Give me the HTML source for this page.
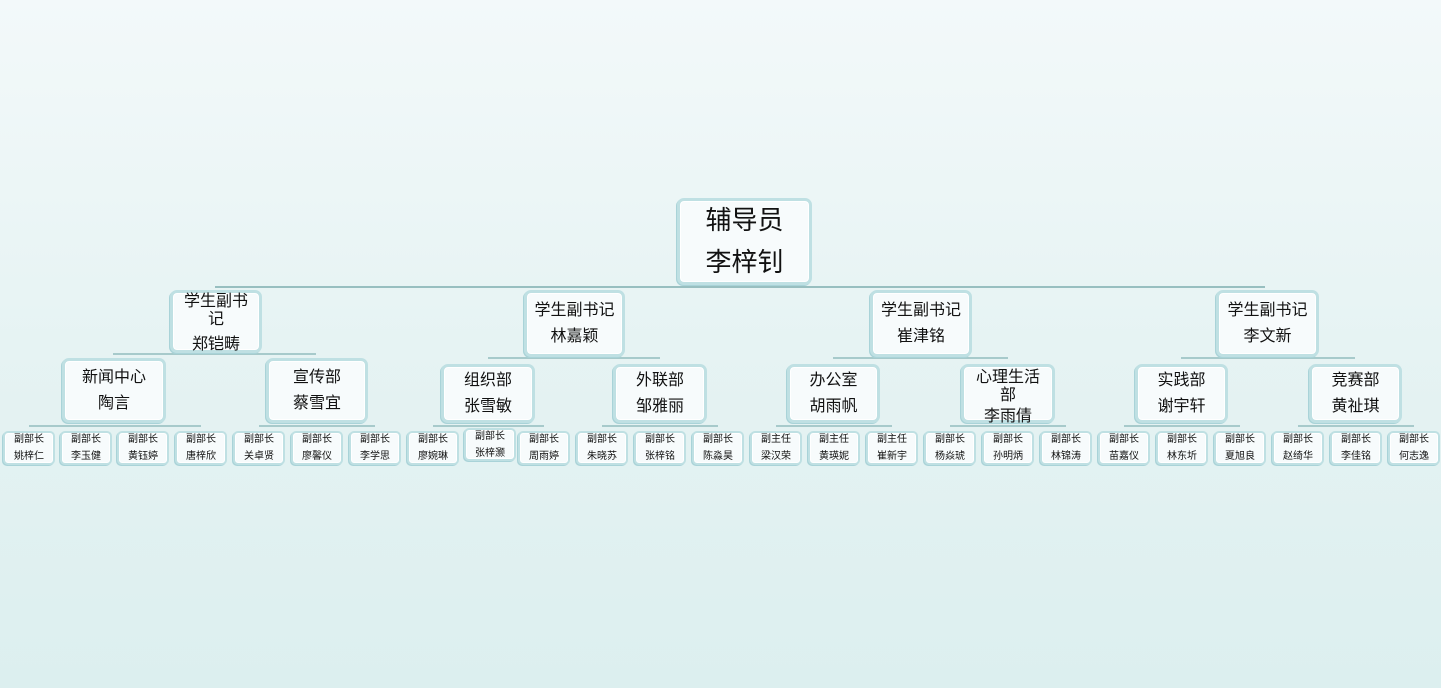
<!DOCTYPE html>
<html><head><meta charset="utf-8"><style>
html,body{margin:0;padding:0}
body{width:1441px;height:688px;position:relative;overflow:hidden;background:linear-gradient(180deg,#f3f9fa 0%,#e6f3f3 50%,#dcefef 100%);font-family:"Liberation Sans","Noto Sans CJK SC",sans-serif;color:#111}
.b{position:absolute;box-sizing:border-box;background:#f7fbfc;border:3px solid #bfe0e3;border-radius:7px;box-shadow:inset 0 0 0 1px #fff,-1px 1px 0 #a9d3d8;display:flex;flex-direction:column;align-items:center;justify-content:center;text-align:center;line-height:1.6}
.r{font-size:26px;line-height:1.6}
.m{font-size:16px}
.s{font-size:10px;line-height:1.7;border-width:2px;border-radius:5px}
.h{position:absolute;height:2px;background:#a7cacb}
.v{position:absolute;width:2px;background:#a7cacb}
</style></head><body>
<div class="h" style="left:215px;top:286px;width:1050px;background:#98bfc0"></div>
<div class="b r" style="left:677px;top:198px;width:135px;height:87px">辅导员<br>李梓钊</div>

<div class="h" style="left:113px;top:353px;width:203px"></div>
<div class="h" style="left:488px;top:357px;width:172px"></div>
<div class="h" style="left:833px;top:357px;width:175px"></div>
<div class="h" style="left:1181px;top:357px;width:174px"></div>

<div class="b m" style="left:170px;top:290px;width:92px;height:63px;line-height:1.1;justify-content:flex-start"><span>学生副书<br>记</span><span style="margin-top:8px">郑铠畴</span></div>
<div class="b m" style="left:524px;top:290px;width:101px;height:67px">学生副书记<br>林嘉颖</div>
<div class="b m" style="left:870px;top:290px;width:102px;height:67px">学生副书记<br>崔津铭</div>
<div class="b m" style="left:1216px;top:290px;width:103px;height:67px">学生副书记<br>李文新</div>

<div class="h" style="left:29px;top:425px;width:172px"></div>
<div class="h" style="left:259px;top:425px;width:116px"></div>
<div class="h" style="left:433px;top:425px;width:111px"></div>
<div class="h" style="left:602px;top:425px;width:116px"></div>
<div class="h" style="left:776px;top:425px;width:116px"></div>
<div class="h" style="left:950px;top:425px;width:116px"></div>
<div class="h" style="left:1124px;top:425px;width:116px"></div>
<div class="h" style="left:1298px;top:425px;width:116px"></div>

<div class="b m" style="left:62px;top:358px;width:104px;height:65px">新闻中心<br>陶言</div>
<div class="b m" style="left:266px;top:358px;width:102px;height:65px">宣传部<br>蔡雪宜</div>
<div class="b m" style="left:441px;top:364px;width:94px;height:59px">组织部<br>张雪敏</div>
<div class="b m" style="left:613px;top:364px;width:94px;height:59px">外联部<br>邹雅丽</div>
<div class="b m" style="left:787px;top:364px;width:93px;height:59px">办公室<br>胡雨帆</div>
<div class="b m" style="left:961px;top:364px;width:94px;height:59px;line-height:1.1;justify-content:flex-start;padding-top:2px"><span>心理生活<br>部</span><span style="margin-top:4px">李雨倩</span></div>
<div class="b m" style="left:1135px;top:364px;width:93px;height:59px">实践部<br>谢宇轩</div>
<div class="b m" style="left:1309px;top:364px;width:93px;height:59px">竞赛部<br>黄祉琪</div>

<div class="b s" style="left:3px;top:431px;width:52px;height:34px">副部长<br>姚梓仁</div>
<div class="b s" style="left:60px;top:431px;width:52px;height:34px">副部长<br>李玉健</div>
<div class="b s" style="left:117px;top:431px;width:52px;height:34px">副部长<br>黄钰婷</div>
<div class="b s" style="left:175px;top:431px;width:52px;height:34px">副部长<br>唐梓欣</div>
<div class="b s" style="left:233px;top:431px;width:52px;height:34px">副部长<br>关卓贤</div>
<div class="b s" style="left:291px;top:431px;width:52px;height:34px">副部长<br>廖馨仪</div>
<div class="b s" style="left:349px;top:431px;width:52px;height:34px">副部长<br>李学思</div>
<div class="b s" style="left:407px;top:431px;width:52px;height:34px">副部长<br>廖婉琳</div>
<div class="b s" style="left:464px;top:428px;width:52px;height:33px">副部长<br>张梓灏</div>
<div class="b s" style="left:518px;top:431px;width:52px;height:34px">副部长<br>周雨婷</div>
<div class="b s" style="left:576px;top:431px;width:52px;height:34px">副部长<br>朱晓苏</div>
<div class="b s" style="left:634px;top:431px;width:52px;height:34px">副部长<br>张梓铭</div>
<div class="b s" style="left:692px;top:431px;width:52px;height:34px">副部长<br>陈淼昊</div>
<div class="b s" style="left:750px;top:431px;width:52px;height:34px">副主任<br>梁汉荣</div>
<div class="b s" style="left:808px;top:431px;width:52px;height:34px">副主任<br>黄瑛妮</div>
<div class="b s" style="left:866px;top:431px;width:52px;height:34px">副主任<br>崔新宇</div>
<div class="b s" style="left:924px;top:431px;width:52px;height:34px">副部长<br>杨焱琥</div>
<div class="b s" style="left:982px;top:431px;width:52px;height:34px">副部长<br>孙明炳</div>
<div class="b s" style="left:1040px;top:431px;width:52px;height:34px">副部长<br>林锦涛</div>
<div class="b s" style="left:1098px;top:431px;width:52px;height:34px">副部长<br>苗嘉仪</div>
<div class="b s" style="left:1156px;top:431px;width:52px;height:34px">副部长<br>林东圻</div>
<div class="b s" style="left:1214px;top:431px;width:52px;height:34px">副部长<br>夏旭良</div>
<div class="b s" style="left:1272px;top:431px;width:52px;height:34px">副部长<br>赵绮华</div>
<div class="b s" style="left:1330px;top:431px;width:52px;height:34px">副部长<br>李佳铭</div>
<div class="b s" style="left:1388px;top:431px;width:52px;height:34px">副部长<br>何志逸</div>
</body></html>
